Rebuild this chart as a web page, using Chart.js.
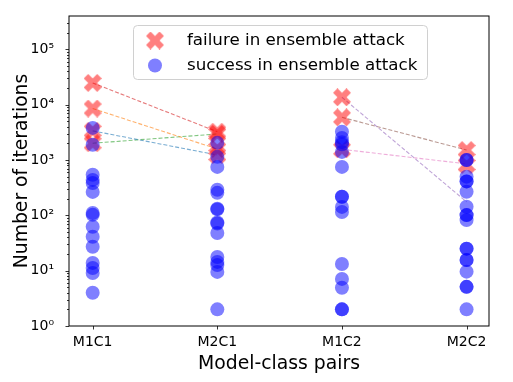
<!DOCTYPE html>
<html><head><meta charset="utf-8">
<script src="https://cdn.jsdelivr.net/npm/chart.js@4/dist/chart.umd.min.js"></script>
<style>html,body{margin:0;padding:0;background:#fff;}canvas{display:block;}</style>
</head><body>
<canvas id="c" width="513" height="382"></canvas>
<script>
// ---- data ----
const categories = ['M1C1', 'M2C1', 'M1C2', 'M2C2'];
const failM1C1 = [24700, 8500, 3360, 2010];
const failM2C1 = [3240, 2950, 1580, 1230];
const failM1C2 = [13600, 5900, 1560];
const failM2C2 = [1515, 813];
const succM1C1 = [3800, 1880, 540, 437, 385, 265, 110, 102, 62, 41, 27, 13.8, 11.2, 9.1, 4];
const succM2C1 = [2040, 1140, 750, 290, 255, 132, 128, 74, 71, 48, 17.7, 14.4, 12.6, 9.5, 2];
const succM1C2 = [3240, 2500, 2100, 1930, 1400, 750, 217, 217, 142, 115, 13.2, 7.1, 4.9, 2, 2];
const succM2C2 = [1000, 1000, 500, 410, 410, 267, 143, 101, 101, 82, 25, 25, 15.6, 15.6, 9.6, 5.1, 5.1, 2];
const linkFrom = ['M1C1', 'M1C1', 'M1C1', 'M1C1', 'M1C2', 'M1C2', 'M1C2'];
const linkTo = ['M2C1', 'M2C1', 'M2C1', 'M2C1', 'M2C2', 'M2C2', 'M2C2'];
const linkStart = [3360, 8500, 2010, 24700, 13600, 5900, 1560];
const linkEnd = [1230, 1580, 2950, 3240, 175, 1515, 850];
const yMajorValues = [1, 10, 100, 1000, 10000, 100000];
const yTickLabels = ['10⁰', '10¹', '10²', '10³', '10⁴', '10⁵'];
const legendLabels = ['failure in ensemble attack', 'success in ensemble attack'];

// ---- styles ----
const linkColors = ['#1f77b4', '#ff7f0e', '#2ca02c', '#d62728', '#9467bd', '#8c564b', '#e377c2'];
function hexA(h, a) { const n = parseInt(h.slice(1), 16); return `rgba(${n>>16},${(n>>8)&255},${n&255},${a})`; }

function makeX(size, color) {
  const c = document.createElement('canvas');
  c.width = c.height = size;
  const g = c.getContext('2d');
  const pts = [[0.25,0],[0.5,0.25],[0.75,0],[1,0.25],[0.75,0.5],[1,0.75],[0.75,1],[0.5,0.75],[0.25,1],[0,0.75],[0.25,0.5],[0,0.25]];
  g.beginPath();
  pts.forEach(([px, py], i) => { const X = px * size, Y = py * size; i ? g.lineTo(X, Y) : g.moveTo(X, Y); });
  g.closePath();
  g.fillStyle = color; g.fill();
  return c;
}
const xMarker = makeX(18, 'rgba(255,0,0,0.5)');

const failSets = [failM1C1, failM2C1, failM1C2, failM2C2];
const succSets = [succM1C1, succM2C1, succM1C2, succM2C2];
const failPts = [], succPts = [];
failSets.forEach((arr, i) => arr.forEach(v => failPts.push({x: i, y: v})));
succSets.forEach((arr, i) => arr.forEach(v => succPts.push({x: i, y: v})));

const datasets = [
  {label: legendLabels[1], data: succPts, pointStyle: 'circle', pointRadius: 7, pointBackgroundColor: 'rgba(0,0,255,0.5)', pointBorderWidth: 0, order: 0},
  {label: legendLabels[0], data: failPts, pointStyle: xMarker, pointRadius: 9, pointBorderWidth: 0, order: 1}
];
linkStart.forEach((s, i) => {
  datasets.push({
    data: [{x: categories.indexOf(linkFrom[i]), y: s}, {x: categories.indexOf(linkTo[i]), y: linkEnd[i]}],
    showLine: true, pointRadius: 0, borderColor: hexA(linkColors[i], 0.6), borderWidth: 1.1,
    borderDash: [4, 2], order: 2
  });
});

// y minor ticks (every 1..9 per decade)
const yTicks = [];
yMajorValues.forEach(d => { for (let k = 1; k <= 9; k++) { const v = d * k; if (v < 4e5) yTicks.push(v); } });

const framePlugin = {
  id: 'frame',
  afterDraw(chart) {
    const {ctx, chartArea: a, scales} = chart;
    ctx.save();
    ctx.strokeStyle = '#000'; ctx.lineWidth = 1;
    ctx.strokeRect(a.left, a.top, a.right - a.left, a.bottom - a.top);
    ctx.beginPath();
    yTicks.forEach(v => {
      const y = Math.round(scales.y.getPixelForValue(v)) + 0.5;
      const len = yMajorValues.includes(v) ? 3.5 : 2;
      ctx.moveTo(a.left, y); ctx.lineTo(a.left - len, y);
    });
    categories.forEach((c, i) => {
      const x = Math.round(scales.x.getPixelForValue(i)) + 0.5;
      ctx.moveTo(x, a.bottom); ctx.lineTo(x, a.bottom + 3.5);
    });
    ctx.lineWidth = 0.8; ctx.stroke();
    ctx.restore();
  }
};

const legendPlugin = {
  id: 'boxlegend',
  afterDatasetsDraw(chart) {
    const ctx = chart.ctx;
    const x0 = 133, y0 = 25, w = 294, h = 54, r = 4;
    ctx.save();
    ctx.beginPath();
    ctx.roundRect(x0 + 0.5, y0 + 0.5, w, h, r);
    ctx.fillStyle = 'rgba(255,255,255,0.8)'; ctx.fill();
    ctx.strokeStyle = '#d0d0d0'; ctx.lineWidth = 1; ctx.stroke();
    ctx.drawImage(xMarker, 155 - 9, 40.5 - 9);
    ctx.beginPath(); ctx.arc(155, 65.5, 7, 0, Math.PI * 2);
    ctx.fillStyle = 'rgba(0,0,255,0.5)'; ctx.fill();
    ctx.fillStyle = '#000'; ctx.font = '16.7px "DejaVu Sans"'; ctx.textBaseline = 'middle';
    ctx.fillText(legendLabels[0], 187, 40.5);
    ctx.fillText(legendLabels[1], 187, 65.5);
    ctx.restore();
  }
};

Chart.defaults.font.family = '"DejaVu Sans"';
Chart.defaults.color = '#000';

new Chart(document.getElementById('c'), {
  type: 'scatter',
  data: {datasets},
  options: {
    responsive: false, animation: false, devicePixelRatio: 1,
    layout: {padding: {left: 0, top: 16, right: 24, bottom: 0}},
    plugins: {legend: {display: false}, tooltip: {enabled: false}},
    scales: {
      x: {
        type: 'linear', min: -0.19, max: 3.18,
        afterFit(s) { s.height = 56; },
        afterBuildTicks(s) { s.ticks = categories.map((c, i) => ({value: i})); },
        grid: {display: false}, border: {display: false},
        ticks: {autoSkip: false, maxRotation: 0, padding: 0, font: {size: 14}, color: '#000',
          callback: (v) => categories[v] !== undefined ? categories[v] : ''},
        title: {display: true, text: 'Model-class pairs', font: {size: 18.8}, color: '#000', padding: {top: 0, bottom: 7}}
      },
      y: {
        type: 'logarithmic', min: 1, max: 4e5,
        afterFit(s) { s.width = 69; },
        afterBuildTicks(s) { s.ticks = yTicks.map(v => ({value: v, major: yMajorValues.includes(v)})); },
        grid: {display: false}, border: {display: false},
        ticks: {autoSkip: false, padding: 7, font: {size: 14}, color: '#000',
          callback: (v) => { const i = yMajorValues.indexOf(v); return i >= 0 ? yTickLabels[i] : ''; }},
        title: {display: true, text: 'Number of iterations', font: {size: 18.8}, color: '#000', padding: {top: 11, bottom: 0}}
      }
    }
  },
  plugins: [legendPlugin, framePlugin]
});
</script>
</body></html>
